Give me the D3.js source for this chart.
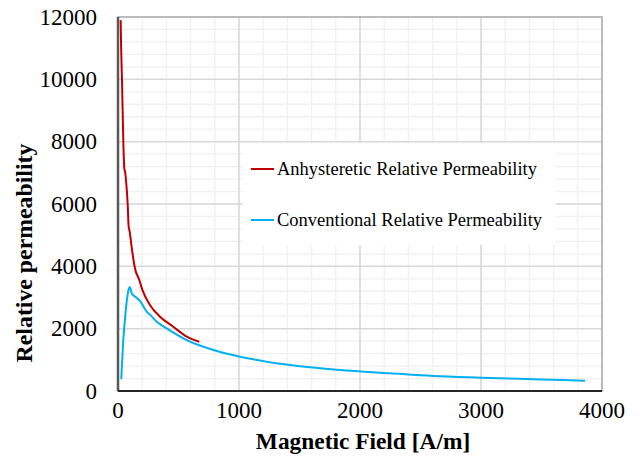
<!DOCTYPE html>
<html>
<head>
<meta charset="utf-8">
<script src="https://cdn.jsdelivr.net/npm/d3@7"></script>
<style>
  body { margin: 0; background: #fff; }
</style>
</head>
<body>
<div id="chart"></div>
<script>
// anhysteretic relative permeability
var anhH  = [22, 26, 33, 44, 52, 60, 66, 80, 88, 95, 116, 140, 176, 200, 264, 347, 457, 568, 672];
var anhMu = [11900, 11000, 9980, 8000, 7150, 7000, 6770, 6000, 5270, 5150, 4525, 3937, 3560, 3260, 2760, 2385, 2063, 1742, 1580];

// conventional relative permeability
var convH  = [27, 44, 58, 80, 91, 99, 113, 150, 182, 237, 264, 320, 402, 595, 788, 1008, 1229, 1587, 1835, 2248, 2606, 3000, 3430, 3860];
var convMu = [375, 1640, 2330, 3100, 3300, 3330, 3134, 3000, 2890, 2546, 2450, 2225, 2012, 1582, 1316, 1102, 941, 760, 674, 568, 481, 428, 380, 331];

var xTicks = [0, 1000, 2000, 3000, 4000];
var yTicks = [0, 2000, 4000, 6000, 8000, 10000, 12000];
var seriesNames = ["Anhysteretic Relative Permeability", "Conventional Relative Permeability"];
var colours = ["#c00000", "#00b0f0"];
var serif = "Liberation Serif";

var margin = { top: 17, right: 38, bottom: 68, left: 118 };
var width = 640 - margin.left - margin.right;
var height = 459 - margin.top - margin.bottom;

var svg = d3.select("#chart")
    .append("svg")
    .attr("width", 640)
    .attr("height", 459);

var g = svg.append("g")
    .attr("transform", "translate(" + margin.left + "," + margin.top + ")");

var xScale = d3.scaleLinear().domain([0, 4000]).range([0, width]);
var yScale = d3.scaleLinear().domain([0, 12000]).range([height, 0]);

// minor grid
g.selectAll(".xminor")
    .data(d3.range(200, 4000, 200))
    .enter().append("line")
    .attr("x1", function(d){ return xScale(d); })
    .attr("x2", function(d){ return xScale(d); })
    .attr("y1", 0).attr("y2", height)
    .style("stroke", "#f0f0f0").style("stroke-width", 1.3);

g.selectAll(".yminor")
    .data(d3.range(400, 12000, 400))
    .enter().append("line")
    .attr("x1", 0).attr("x2", width)
    .attr("y1", function(d){ return yScale(d); })
    .attr("y2", function(d){ return yScale(d); })
    .style("stroke", "#f0f0f0").style("stroke-width", 1.3);

// major grid
g.selectAll(".xmajor")
    .data(xTicks.slice(1, -1))
    .enter().append("line")
    .attr("x1", function(d){ return xScale(d); })
    .attr("x2", function(d){ return xScale(d); })
    .attr("y1", 0).attr("y2", height)
    .style("stroke", "#d9d9d9").style("stroke-width", 1.5);

g.selectAll(".ymajor")
    .data(yTicks.slice(1, -1))
    .enter().append("line")
    .attr("x1", 0).attr("x2", width)
    .attr("y1", function(d){ return yScale(d); })
    .attr("y2", function(d){ return yScale(d); })
    .style("stroke", "#d9d9d9").style("stroke-width", 1.5);

// plot border
g.append("rect")
    .attr("width", width).attr("height", height)
    .style("fill", "none").style("stroke", "#a6a6a6").style("stroke-width", 1.5);

var line = d3.line()
    .curve(d3.curveMonotoneX)
    .x(function(d){ return xScale(d[0]); })
    .y(function(d){ return yScale(d[1]); });

g.append("path")
    .datum(d3.zip(convH, convMu))
    .attr("d", line)
    .style("fill", "none").style("stroke", colours[1]).style("stroke-width", 2);

g.append("path")
    .datum(d3.zip(anhH, anhMu))
    .attr("d", line)
    .style("fill", "none").style("stroke", colours[0]).style("stroke-width", 2);

// axis lines
g.append("line")
    .attr("x1", 0).attr("x2", 0).attr("y1", 0).attr("y2", height)
    .style("stroke", "#595959").style("stroke-width", 2.5);
g.append("line")
    .attr("x1", 0).attr("x2", width).attr("y1", height).attr("y2", height)
    .style("stroke", "#262626").style("stroke-width", 2);

// tick labels
g.selectAll(".ylab")
    .data(yTicks)
    .enter().append("text")
    .attr("x", -21)
    .attr("y", function(d){ return yScale(d); })
    .attr("dy", "0.34em")
    .attr("text-anchor", "end")
    .attr("font-family", serif)
    .attr("font-size", 23)
    .text(function(d){ return d; });

g.selectAll(".xlab")
    .data(xTicks)
    .enter().append("text")
    .attr("x", function(d){ return xScale(d); })
    .attr("y", height + 27)
    .attr("text-anchor", "middle")
    .attr("font-family", serif)
    .attr("font-size", 23)
    .text(function(d){ return d; });

// axis titles
svg.append("text")
    .attr("x", 363)
    .attr("y", 449)
    .attr("text-anchor", "middle")
    .attr("font-family", serif)
    .attr("font-size", 23.4)
    .attr("font-weight", "bold")
    .text("Magnetic Field [A/m]");

svg.append("text")
    .attr("transform", "translate(32,253) rotate(-90)")
    .attr("text-anchor", "middle")
    .attr("font-family", serif)
    .attr("font-size", 23.8)
    .attr("font-weight", "bold")
    .text("Relative permeability");

// legend
var legend = svg.append("g").attr("transform", "translate(243,143)");
legend.append("rect")
    .attr("width", 313).attr("height", 102)
    .style("fill", "#fff");

var items = legend.selectAll(".item")
    .data(seriesNames)
    .enter().append("g")
    .attr("transform", function(d, i){ return "translate(0," + (26 + i * 51) + ")"; });

items.append("line")
    .attr("x1", 8).attr("x2", 31)
    .style("stroke", function(d, i){ return colours[i]; })
    .style("stroke-width", 2);

items.append("text")
    .attr("x", 34)
    .attr("dy", "0.32em")
    .attr("font-family", serif)
    .attr("font-size", 18.5)
    .text(function(d){ return d; });
</script>
</body>
</html>
